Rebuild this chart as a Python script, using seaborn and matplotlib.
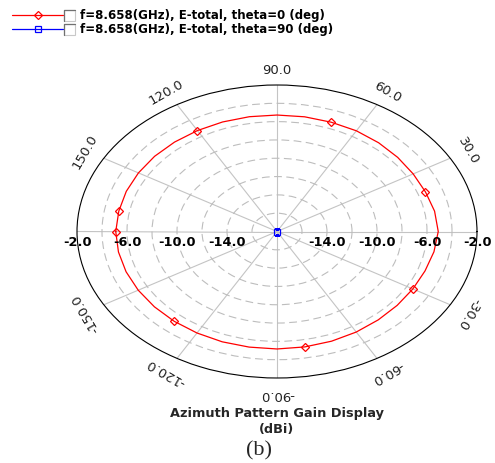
import numpy as np
import pandas as pd
import seaborn as sns
import matplotlib.pyplot as plt
from matplotlib.lines import Line2D
from matplotlib.patches import Rectangle

sns.set_theme(style="white")
plt.rcParams["font.family"] = ["DejaVu Sans"]

# data -----------------------------------------------------------------------
phi_deg = [-180, -170, -160, -150, -140, -130, -120, -110, -100, -90,
           -80, -70, -60, -50, -40, -30, -20, -10, 0, 10,
           20, 30, 40, 50, 60, 70, 80, 90, 100, 110,
           120, 130, 140, 150, 160, 170, 180]
gain_theta0 = [-5.10, -5.12, -5.15, -5.18, -5.20, -5.20, -5.20, -5.18, -5.18, -5.17,
               -5.20, -5.25, -5.32, -5.40, -5.45, -5.45, -5.40, -5.25, -5.10, -5.20,
               -5.36, -5.42, -5.40, -5.35, -5.30, -5.30, -5.28, -5.28, -5.27, -5.27,
               -5.27, -5.25, -5.22, -5.20, -5.17, -5.15, -5.10]
gain_theta90 = [-18.0, -18.0, -18.0, -18.0, -18.0, -18.0, -18.0, -18.0, -18.0, -18.0,
                -18.0, -18.0, -18.0, -18.0, -18.0, -18.0, -18.0, -18.0, -18.0, -18.0,
                -18.0, -18.0, -18.0, -18.0, -18.0, -18.0, -18.0, -18.0, -18.0, -18.0,
                -18.0, -18.0, -18.0, -18.0, -18.0, -18.0, -18.0]
series_labels = ["f=8.658(GHz), E-total, theta=0 (deg)",
                 "f=8.658(GHz), E-total, theta=90 (deg)"]
ring_values = [-16, -14, -12, -10, -8, -6, -4]
ring_labels = [-14.0, -10.0, -6.0, -2.0]
angle_ticks = [30, 60, 90, 120, 150, -30, -60, -90, -120, -150]

df = pd.DataFrame({"phi": np.deg2rad(phi_deg),
                   "g0": gain_theta0, "g90": gain_theta90})

# figure ---------------------------------------------------------------------
W, H = 495, 464
fig = plt.figure(figsize=(W / 100, H / 100), dpi=100)
fig.patch.set_facecolor("white")
ax = fig.add_axes([77 / W, 1 - 379 / H, 400 / W, 293 / H], projection="polar")
ax.set_aspect("auto")
ax.set_facecolor("white")

sns.lineplot(data=df, x="phi", y="g0", ax=ax, color="red", lw=0.9,
             marker="D", markersize=3.6, markevery=5, markerfacecolor="none",
             markeredgecolor="red", markeredgewidth=0.9, sort=False)
sns.lineplot(data=df, x="phi", y="g90", ax=ax, color="blue", lw=0.9,
             marker="s", markersize=4.5, markevery=[0], markerfacecolor="none",
             markeredgecolor="blue", markeredgewidth=0.9, sort=False)

ax.set_rlim(-18, -2)
ax.set_xticks(np.deg2rad(np.arange(0, 360, 30)))
ax.set_xticklabels([""] * 12)
ax.set_yticks(ring_values)
ax.set_yticklabels([""] * len(ring_values))
ax.set_xlabel("")
ax.set_ylabel("")
ax.xaxis.grid(True, color="#c4c4c4", ls="-", lw=0.8)
ax.yaxis.grid(True, color="#bdbdbd", ls=(0, (7, 4)), lw=0.8)
ax.spines["polar"].set_color("black")
ax.spines["polar"].set_linewidth(0.8)

# radial labels on the horizontal axis
for v in ring_labels:
    for side in (0, np.pi):
        ax.annotate(f"{v:.1f}", xy=(side, v), xytext=(0, -7.5),
                    textcoords="offset points", ha="center", va="center",
                    fontsize=9.3, fontweight="bold", color="black",
                    annotation_clip=False)

# angle labels round the rim
for a in angle_ticks:
    ax.text(np.deg2rad(a), -0.3, f"{a:.1f}", ha="center", va="center",
            rotation=a - 90, rotation_mode="anchor", fontsize=9.5,
            color="#222222", clip_on=False)

# legend ---------------------------------------------------------------------
def fx(px):
    return px / W


def fy(py):
    return 1 - py / H


for i, (col, mk, lab) in enumerate([("red", "D", series_labels[0]),
                                     ("blue", "s", series_labels[1])]):
    y = 16 + 13.5 * i
    fig.add_artist(Line2D([fx(12), fx(63)], [fy(y), fy(y)], color=col, lw=0.9,
                          transform=fig.transFigure))
    fig.add_artist(Line2D([fx(37.5)], [fy(y)], color=col, marker=mk,
                          markersize=3.6 if mk == "D" else 4,
                          markerfacecolor="none", markeredgewidth=0.9,
                          transform=fig.transFigure))
    fig.add_artist(Rectangle((fx(64), fy(y + 6)), 11 / W, 11 / H,
                             facecolor="white", edgecolor="#c8c8c8", lw=0.8,
                             transform=fig.transFigure))
    fig.add_artist(Line2D([fx(64), fx(64), fx(75)], [fy(y + 6), fy(y - 5), fy(y - 5)],
                          color="#707070", lw=0.9, transform=fig.transFigure))
    fig.text(fx(80), fy(y), lab, ha="left", va="center", fontsize=8.5,
             fontweight="bold", color="black")

# captions ---------------------------------------------------------------------
fig.text(fx(277), fy(414), "Azimuth Pattern Gain Display", ha="center",
         va="center", fontsize=9.3, fontweight="bold")
fig.text(fx(276), fy(430), "(dBi)", ha="center", va="center", fontsize=9.3,
         fontweight="bold")
fig.text(fx(259), fy(451), "(b)", ha="center", va="center", fontsize=16,
         family=["Liberation Serif", "DejaVu Serif"])

fig.savefig("out.png", dpi=100, facecolor="white")
